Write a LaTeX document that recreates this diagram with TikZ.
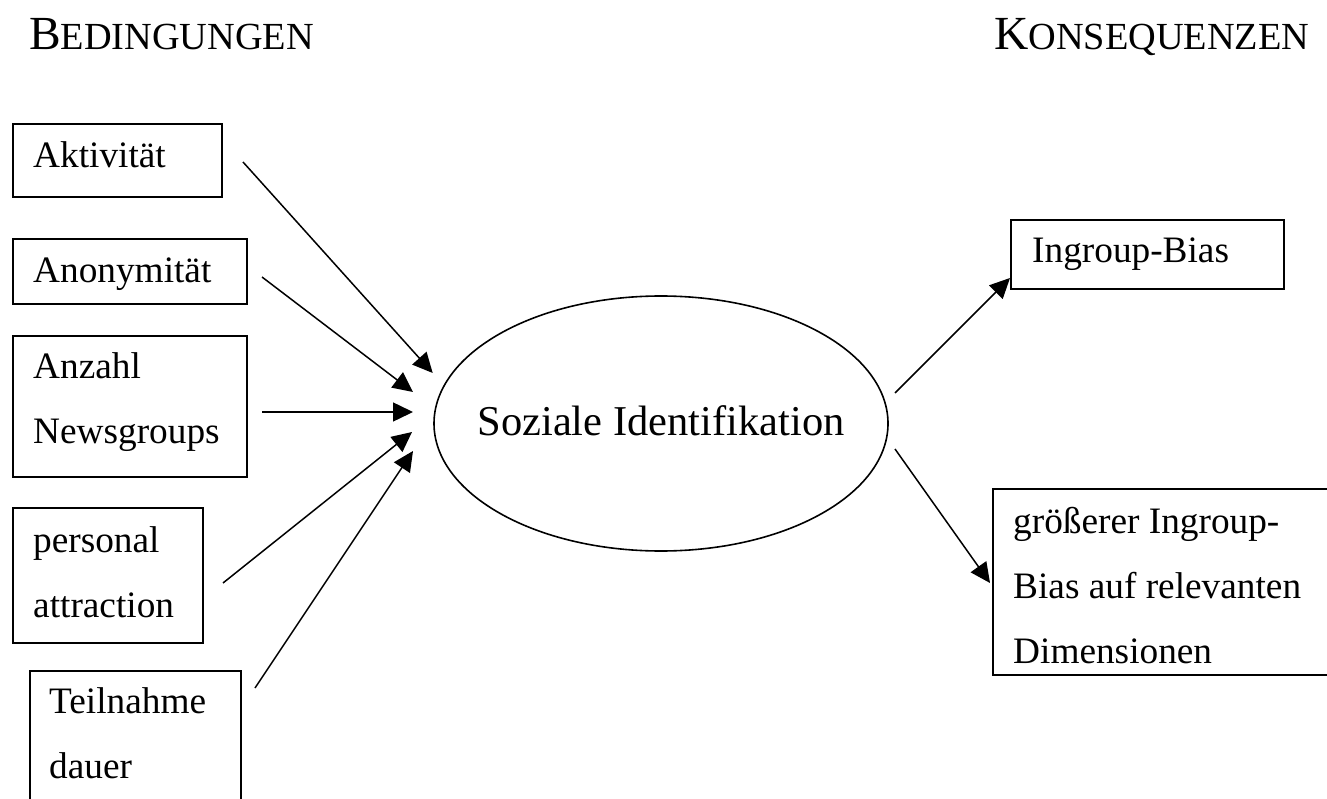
\documentclass[tikz,border=0pt]{standalone}
\usepackage{fontspec}
\setmainfont{Liberation Serif}
\usetikzlibrary{arrows.meta,shapes.geometric}
\newcommand{\bodyfont}{\fontsize{37.3}{65}\selectfont}
\newcommand{\hdrbig}{\fontsize{47.5}{50}\selectfont}
\newcommand{\hdrsmall}{\fontsize{38.3}{50}\selectfont}
\newcommand{\linesbox}[1]{\parbox[t]{300pt}{\bodyfont #1}}
\begin{document}
\begin{tikzpicture}[x=1pt,y=-1pt,
  box/.style={draw, line width=1.6pt, rectangle, inner sep=0pt, anchor=north west},
  txt/.style={anchor=base west, inner sep=0pt, font=\bodyfont},
  hdr/.style={anchor=base west, inner sep=0pt},
  conn/.style={line width=1.5pt, -{Triangle[length=20pt,width=19pt]}}
]
\useasboundingbox (0,0) rectangle (1327,799);
\clip (0,0) rectangle (1327,799);
\fill[white] (0,0) rectangle (1327,799);

% headers
\node[hdr] (hb) at (29,50) {{\hdrbig B}{\hdrsmall EDINGUNGEN}};
\node[hdr] (hk) at (994,50) {{\hdrbig K}{\hdrsmall ONSEQUENZEN}};

% left boxes
\node[box, minimum width=209, minimum height=73] (akt) at (12,123) {};
\node[txt] (akt-t) at (33,168) {Aktivität};

\node[box, minimum width=234, minimum height=65] (ano) at (12,238) {};
\node[txt] (ano-t) at (33,283) {Anonymität};

\node[box, minimum width=234, minimum height=141] (anz) at (12,335) {};
\node[txt] (anz-t) at (33,378) {\linesbox{Anzahl\\Newsgroups}};

\node[box, minimum width=190, minimum height=135] (per) at (12,507) {};
\node[txt] (per-t) at (33,552) {\linesbox{personal\\attraction}};

\node[box, minimum width=211, minimum height=160] (tei) at (29,670) {};
\node[txt] (tei-t) at (49,713) {\linesbox{Teilnahme\\dauer}};

% ellipse
\node[draw, ellipse, line width=1.6pt, minimum width=454, minimum height=255, inner sep=0pt] (si) at (661,423.5) {};
\node[anchor=base, inner sep=0pt, font=\fontsize{42.5}{50}\selectfont] (si-t) at (661,435) {Soziale Identifikation};

% right boxes
\node[box, minimum width=273, minimum height=69] (ing) at (1010,219) {};
\node[txt] (ing-t) at (1032,263) {Ingroup-Bias};

\node[box, minimum width=360, minimum height=186] (gro) at (992,488) {};
\node[txt] (gro-t) at (1013,533) {\linesbox{größerer Ingroup-\\Bias auf relevanten\\Dimensionen}};

% connector endpoints
\coordinate (s1) at (243,162);   \coordinate (e1) at (432.7,373);
\coordinate (s2) at (262,277);   \coordinate (e2) at (413,392);
\coordinate (s3) at (262,412);   \coordinate (e3) at (413,412);
\coordinate (s4) at (223,583);   \coordinate (e4) at (412,432);
\coordinate (s5) at (255,688);   \coordinate (e5) at (413,451);
\coordinate (s6) at (895,393);   \coordinate (e6) at (1010,278);
\coordinate (s7) at (895,449);   \coordinate (e7) at (990,583);

\draw[conn] (s1) -- (e1);
\draw[conn] (s2) -- (e2);
\draw[conn] (s3) -- (e3);
\draw[conn] (s4) -- (e4);
\draw[conn] (s5) -- (e5);
\draw[conn] (s6) -- (e6);
\draw[conn] (s7) -- (e7);
\end{tikzpicture}
\end{document}
